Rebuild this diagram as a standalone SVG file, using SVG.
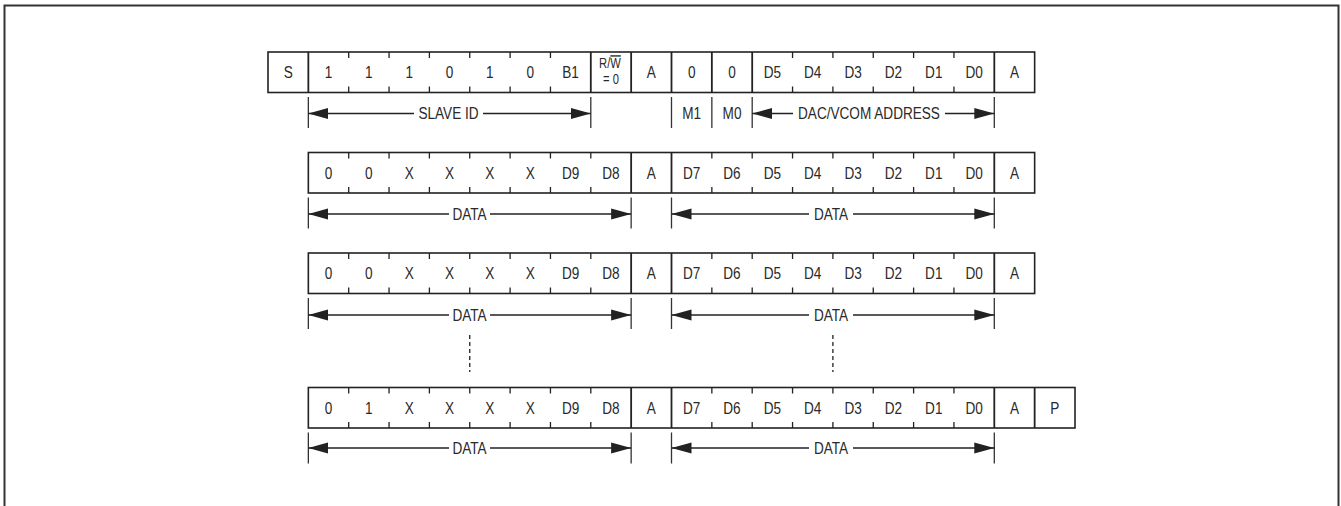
<svg xmlns="http://www.w3.org/2000/svg" width="1341" height="506" viewBox="0 0 1341 506">
<style>
  .frame{fill:none;stroke:#333;stroke-width:2}
  .box{fill:#fff;stroke:#222;stroke-width:1.6}
  .div{stroke:#222;stroke-width:1.8}
  .tick{stroke:#222;stroke-width:1.3}
  .lim{stroke:#333;stroke-width:1.3}
  .arr{stroke:#222;stroke-width:1.3;fill:none;marker-end:url(#ah)}
  .dash{stroke:#222;stroke-width:1.3;stroke-dasharray:4 3}
  text{font-family:"Liberation Sans Narrow","Liberation Sans",Arial,sans-serif;font-size:17px;fill:#2a2a2a;text-anchor:middle;transform-box:fill-box;transform-origin:center;transform:scaleX(0.8)}
  .sm{font-size:14px}
</style>
<defs>
  <marker id="ah" markerUnits="userSpaceOnUse" markerWidth="21" markerHeight="12" refX="20" refY="6" orient="auto">
    <path d="M0,0.5 L20,6 L0,11.5 z" fill="#222"/>
  </marker>
</defs>
<rect class="frame" x="4.5" y="5.5" width="1334" height="540"/>

<!-- Row 1 -->
<g id="row1">
  <rect class="box" x="268" y="52" width="766.65" height="40.5"/>
  <g id="r1-dividers">
    <line class="div" x1="308.35" y1="52" x2="308.35" y2="92.5"/>
    <line class="div" x1="590.8" y1="52" x2="590.8" y2="92.5"/>
    <line class="div" x1="631.15" y1="52" x2="631.15" y2="92.5"/>
    <line class="div" x1="671.5" y1="52" x2="671.5" y2="92.5"/>
    <line class="div" x1="711.85" y1="52" x2="711.85" y2="92.5"/>
    <line class="div" x1="752.2" y1="52" x2="752.2" y2="92.5"/>
    <line class="div" x1="994.3" y1="52" x2="994.3" y2="92.5"/>
  </g>
  <g id="r1-ticks">
    <path class="tick" d="M348.7,52v6M389.05,52v6M429.4,52v6M469.75,52v6M510.1,52v6M550.45,52v6M792.55,52v6M832.9,52v6M873.25,52v6M913.6,52v6M953.95,52v6
    M348.7,92.5v-6M389.05,92.5v-6M429.4,92.5v-6M469.75,92.5v-6M510.1,92.5v-6M550.45,92.5v-6M792.55,92.5v-6M832.9,92.5v-6M873.25,92.5v-6M913.6,92.5v-6M953.95,92.5v-6"/>
  </g>
  <g id="r1-start"><text x="288.2" y="78.5">S</text></g>
  <g id="r1-slaveid">
    <text x="328.5" y="78.5">1</text><text x="368.9" y="78.5">1</text><text x="409.2" y="78.5">1</text><text x="449.6" y="78.5">0</text><text x="489.9" y="78.5">1</text><text x="530.3" y="78.5">0</text><text x="570.6" y="78.5">B1</text>
  </g>
  <g id="r1-rw"><text class="sm" x="610" y="68.5">R/<tspan text-decoration="overline">W</tspan></text><text class="sm" x="611" y="84.5">= 0</text></g>
  <g id="r1-ack1"><text x="651.3" y="78.5">A</text></g>
  <g id="r1-mode"><text x="691.7" y="78.5">0</text><text x="732" y="78.5">0</text></g>
  <g id="r1-addr">
    <text x="772.4" y="78.5">D5</text><text x="812.7" y="78.5">D4</text><text x="853.1" y="78.5">D3</text><text x="893.4" y="78.5">D2</text><text x="933.8" y="78.5">D1</text><text x="974.1" y="78.5">D0</text>
  </g>
  <g id="r1-ack2"><text x="1014.5" y="78.5">A</text></g>
</g>

<!-- Row 2 -->
<g id="row2">
  <rect class="box" x="308.35" y="152.5" width="726.3" height="40.5"/>
  <path class="div" d="M631.15,152.5v40.5M671.5,152.5v40.5M994.3,152.5v40.5"/>
  <path class="tick" d="M348.7,152.5v6M389.05,152.5v6M429.4,152.5v6M469.75,152.5v6M510.1,152.5v6M550.45,152.5v6M590.8,152.5v6M711.85,152.5v6M752.2,152.5v6M792.55,152.5v6M832.9,152.5v6M873.25,152.5v6M913.6,152.5v6M953.95,152.5v6
  M348.7,193v-6M389.05,193v-6M429.4,193v-6M469.75,193v-6M510.1,193v-6M550.45,193v-6M590.8,193v-6M711.85,193v-6M752.2,193v-6M792.55,193v-6M832.9,193v-6M873.25,193v-6M913.6,193v-6M953.95,193v-6"/>
  <g id="r2-hi"><text x="328.5" y="179">0</text><text x="368.9" y="179">0</text><text x="409.2" y="179">X</text><text x="449.6" y="179">X</text><text x="489.9" y="179">X</text><text x="530.3" y="179">X</text><text x="570.6" y="179">D9</text><text x="611" y="179">D8</text></g>
  <g id="r2-ack1"><text x="651.3" y="179">A</text></g>
  <g id="r2-lo"><text x="691.7" y="179">D7</text><text x="732" y="179">D6</text><text x="772.4" y="179">D5</text><text x="812.7" y="179">D4</text><text x="853.1" y="179">D3</text><text x="893.4" y="179">D2</text><text x="933.8" y="179">D1</text><text x="974.1" y="179">D0</text></g>
  <g id="r2-ack2"><text x="1014.5" y="179">A</text></g>
</g>

<!-- Row 3 -->
<g id="row3">
  <rect class="box" x="308.35" y="253" width="726.3" height="40.5"/>
  <path class="div" d="M631.15,253v40.5M671.5,253v40.5M994.3,253v40.5"/>
  <path class="tick" d="M348.7,253v6M389.05,253v6M429.4,253v6M469.75,253v6M510.1,253v6M550.45,253v6M590.8,253v6M711.85,253v6M752.2,253v6M792.55,253v6M832.9,253v6M873.25,253v6M913.6,253v6M953.95,253v6
  M348.7,293.5v-6M389.05,293.5v-6M429.4,293.5v-6M469.75,293.5v-6M510.1,293.5v-6M550.45,293.5v-6M590.8,293.5v-6M711.85,293.5v-6M752.2,293.5v-6M792.55,293.5v-6M832.9,293.5v-6M873.25,293.5v-6M913.6,293.5v-6M953.95,293.5v-6"/>
  <g id="r3-hi"><text x="328.5" y="279.5">0</text><text x="368.9" y="279.5">0</text><text x="409.2" y="279.5">X</text><text x="449.6" y="279.5">X</text><text x="489.9" y="279.5">X</text><text x="530.3" y="279.5">X</text><text x="570.6" y="279.5">D9</text><text x="611" y="279.5">D8</text></g>
  <g id="r3-ack1"><text x="651.3" y="279.5">A</text></g>
  <g id="r3-lo"><text x="691.7" y="279.5">D7</text><text x="732" y="279.5">D6</text><text x="772.4" y="279.5">D5</text><text x="812.7" y="279.5">D4</text><text x="853.1" y="279.5">D3</text><text x="893.4" y="279.5">D2</text><text x="933.8" y="279.5">D1</text><text x="974.1" y="279.5">D0</text></g>
  <g id="r3-ack2"><text x="1014.5" y="279.5">A</text></g>
</g>

<!-- Row 4 -->
<g id="row4">
  <rect class="box" x="308.35" y="387.5" width="766.65" height="40.5"/>
  <path class="div" d="M631.15,387.5v40.5M671.5,387.5v40.5M994.3,387.5v40.5M1034.65,387.5v40.5"/>
  <path class="tick" d="M348.7,387.5v6M389.05,387.5v6M429.4,387.5v6M469.75,387.5v6M510.1,387.5v6M550.45,387.5v6M590.8,387.5v6M711.85,387.5v6M752.2,387.5v6M792.55,387.5v6M832.9,387.5v6M873.25,387.5v6M913.6,387.5v6M953.95,387.5v6
  M348.7,428v-6M389.05,428v-6M429.4,428v-6M469.75,428v-6M510.1,428v-6M550.45,428v-6M590.8,428v-6M711.85,428v-6M752.2,428v-6M792.55,428v-6M832.9,428v-6M873.25,428v-6M913.6,428v-6M953.95,428v-6"/>
  <g id="r4-hi"><text x="328.5" y="414">0</text><text x="368.9" y="414">1</text><text x="409.2" y="414">X</text><text x="449.6" y="414">X</text><text x="489.9" y="414">X</text><text x="530.3" y="414">X</text><text x="570.6" y="414">D9</text><text x="611" y="414">D8</text></g>
  <g id="r4-ack1"><text x="651.3" y="414">A</text></g>
  <g id="r4-lo"><text x="691.7" y="414">D7</text><text x="732" y="414">D6</text><text x="772.4" y="414">D5</text><text x="812.7" y="414">D4</text><text x="853.1" y="414">D3</text><text x="893.4" y="414">D2</text><text x="933.8" y="414">D1</text><text x="974.1" y="414">D0</text></g>
  <g id="r4-ack2"><text x="1014.5" y="414">A</text></g>
  <g id="r4-stop"><text x="1054.8" y="414">P</text></g>
</g>

<!-- Connectors: span arrows, limit lines, continuation dashes -->
<g id="connectors">
  <!-- row 1 -->
  <path class="lim" d="M308.35,97v31M590.8,97v31M671.5,97v31M711.85,97v31M752.2,97v31M994.3,97v31"/>
  <line class="arr" x1="414" y1="113.5" x2="308.35" y2="113.5"/>
  <line class="arr" x1="483" y1="113.5" x2="590.8" y2="113.5"/>
  <line class="arr" x1="793" y1="113.5" x2="752.2" y2="113.5"/>
  <line class="arr" x1="945" y1="113.5" x2="994.3" y2="113.5"/>
  <!-- row 2 -->
  <path class="lim" d="M308.35,197.5v31M631.15,197.5v31M671.5,197.5v31M994.3,197.5v31"/>
  <line class="arr" x1="449" y1="214" x2="308.35" y2="214"/>
  <line class="arr" x1="490" y1="214" x2="631.15" y2="214"/>
  <line class="arr" x1="809" y1="214" x2="671.5" y2="214"/>
  <line class="arr" x1="853" y1="214" x2="994.3" y2="214"/>
  <!-- row 3 -->
  <path class="lim" d="M308.35,298v31M631.15,298v31M671.5,298v31M994.3,298v31"/>
  <line class="arr" x1="449" y1="315" x2="308.35" y2="315"/>
  <line class="arr" x1="490" y1="315" x2="631.15" y2="315"/>
  <line class="arr" x1="809" y1="315" x2="671.5" y2="315"/>
  <line class="arr" x1="853" y1="315" x2="994.3" y2="315"/>
  <!-- row 4 -->
  <path class="lim" d="M308.35,432.5v31M631.15,432.5v31M671.5,432.5v31M994.3,432.5v31"/>
  <line class="arr" x1="449" y1="448" x2="308.35" y2="448"/>
  <line class="arr" x1="490" y1="448" x2="631.15" y2="448"/>
  <line class="arr" x1="809" y1="448" x2="671.5" y2="448"/>
  <line class="arr" x1="853" y1="448" x2="994.3" y2="448"/>
  <!-- continuation -->
  <line class="dash" x1="469.75" y1="335" x2="469.75" y2="372"/>
  <line class="dash" x1="832.9" y1="335" x2="832.9" y2="372"/>
</g>

<!-- span labels -->
<g id="labels">
  <text x="448.5" y="119.5">SLAVE ID</text>
  <text x="691.7" y="119.5">M1</text>
  <text x="732" y="119.5">M0</text>
  <text x="869" y="119.5">DAC/VCOM ADDRESS</text>
  <text x="469.5" y="220">DATA</text>
  <text x="831" y="220">DATA</text>
  <text x="469.5" y="321">DATA</text>
  <text x="831" y="321">DATA</text>
  <text x="469.5" y="454">DATA</text>
  <text x="831" y="454">DATA</text>
</g>
</svg>
